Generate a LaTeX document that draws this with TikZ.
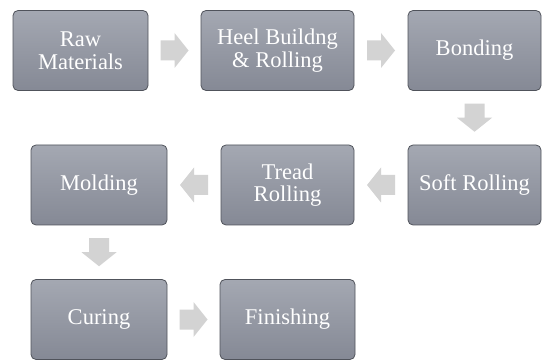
\documentclass[tikz,border=0pt]{standalone}
\usepackage{fontspec}
\setmainfont{Liberation Serif}
\usetikzlibrary{calc}
\definecolor{boxtop}{HTML}{A4A8B2}
\definecolor{boxbot}{HTML}{858995}
\definecolor{boxline}{HTML}{50535B}
\definecolor{flowgray}{HTML}{D3D3D3}
\begin{document}
\begin{tikzpicture}[x=1pt,y=1pt, line join=round, line cap=round,
	box/.style={draw=boxline, line width=0.8pt, rounded corners=5pt, top color=boxtop, bottom color=boxbot,
		minimum height=80, inner sep=2pt, align=center, text=white,
		font=\fontsize{22.5}{22.5}\selectfont},
	flowarrow/.pic={\fill[flowgray] (-14,-10) -- (0,-10) -- (0,-17.5) -- (14,0) -- (0,17.5) -- (0,10) -- (-14,10) -- cycle;}]
	\useasboundingbox (0,0) rectangle (542,-361);
	% steps
	\node[box, minimum width=135] (raw) at (80.5,-50.5) {Raw\\Materials};
	\node[box, minimum width=153] (heel) at (277.5,-50.5) {Heel Buildng\\\& Rolling};
	\node[box, minimum width=133] (bond) at (474.5,-50.5) {Bonding};
	\node[box, minimum width=133] (soft) at (474.5,-185) {Soft Rolling};
	\node[box, minimum width=133] (tread) at (287.5,-185) {Tread\\Rolling};
	\node[box, minimum width=136] (mold) at (99,-185) {Molding};
	\node[box, minimum width=136] (cure) at (99,-319.5) {Curing};
	\node[box, minimum width=135] (finish) at (287.5,-319.5) {Finishing};
	% arrows
	\foreach \a/\b/\r in {raw.east/heel.west/0, heel.east/bond.west/0, bond.south/soft.north/270,
		soft.west/tread.east/180, tread.west/mold.east/180, mold.south/cure.north/270, cure.east/finish.west/0}
	\pic[rotate=\r] at ($(\a)!0.5!(\b)$) {flowarrow};
\end{tikzpicture}
\end{document}
